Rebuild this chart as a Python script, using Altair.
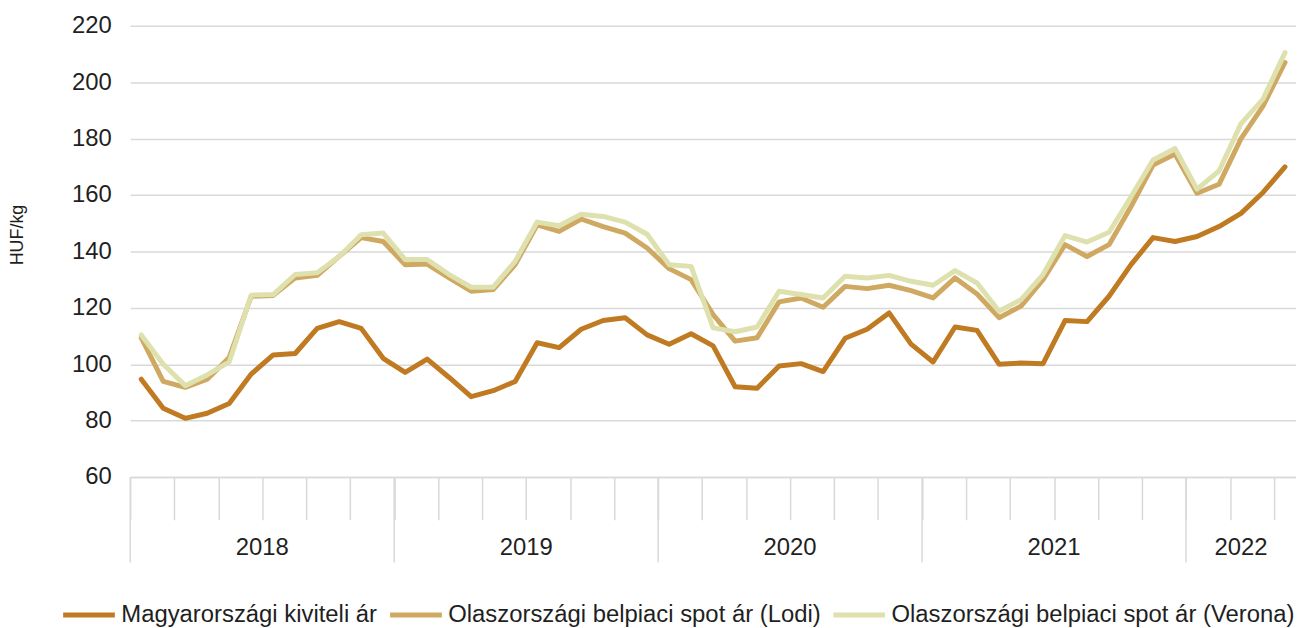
import altair as alt
import pandas as pd

start_year = 2018
series_names = [
    "Magyarországi kiviteli ár",
    "Olaszországi belpiaci spot ár (Lodi)",
    "Olaszországi belpiaci spot ár (Verona)",
]
colors = ["#BF7A22", "#CFA962", "#DEE1AE"]

hu_export = [94.7, 84.4, 80.8, 82.6, 86.1, 96.5, 103.3, 103.8, 112.7, 115.1, 112.7, 102.1,
             97.1, 101.8, 95.3, 88.5, 90.6, 93.9, 107.6, 105.9, 112.4, 115.5, 116.5, 110.4,
             107.1, 110.8, 106.5, 92.0, 91.5, 99.4, 100.2, 97.4, 109.2, 112.4, 118.2, 107.1,
             100.8, 113.2, 112.0, 100.0, 100.4, 100.2, 115.5, 115.1, 124.1, 135.3, 144.9, 143.5,
             145.3, 148.8, 153.5, 160.9, 170.0]
lodi = [109.4, 93.9, 91.8, 94.7, 102.4, 124.1, 124.4, 130.6, 131.5, 138.2, 144.9, 143.5,
        135.3, 135.5, 130.6, 125.9, 126.5, 135.3, 149.4, 147.1, 151.5, 148.8, 146.5, 141.2,
        133.9, 130.0, 117.6, 108.2, 109.4, 122.1, 123.5, 120.2, 127.6, 126.8, 128.0, 126.1,
        123.5, 130.6, 124.9, 116.5, 120.6, 130.0, 142.4, 138.2, 142.4, 155.9, 170.6, 174.5,
        160.6, 163.8, 180.0, 191.5, 207.0]
verona = [110.4, 100.0, 92.4, 96.2, 100.8, 124.5, 124.7, 131.8, 132.4, 138.2, 145.9, 146.5,
          137.1, 137.1, 131.8, 127.3, 127.3, 136.5, 150.4, 149.1, 153.2, 152.4, 150.4, 146.1,
          135.3, 134.7, 112.9, 111.5, 113.2, 125.9, 124.7, 123.5, 131.2, 130.6, 131.5, 129.4,
          128.0, 133.2, 128.8, 118.8, 122.9, 131.8, 145.6, 143.3, 146.8, 159.4, 172.4, 176.5,
          162.1, 168.5, 185.3, 194.0, 210.5]
y_ticks = [60, 80, 100, 120, 140, 160, 180, 200, 220]

n = len(hu_export)
rows = []
for name, vals in zip(series_names, [hu_export, lodi, verona]):
    for i, v in enumerate(vals):
        rows.append({"series": name, "pos": i + 0.5, "value": v})
df = pd.DataFrame(rows)

# year spans
years = []
for i in range(n):
    y = str(start_year + i // 12)
    if not years or years[-1]["year"] != y:
        years.append({"year": y, "start": i, "end": i + 1})
    else:
        years[-1]["end"] = i + 1
ydf = pd.DataFrame(years)
ydf["mid"] = (ydf["start"] + ydf["end"]) / 2

W, H = 1173, 454
FONT = "Liberation Sans"
GRID = "#D9D9D9"
TXT = "#1F1F1F"

xscale = alt.Scale(domain=[0, n], nice=False, zero=False)

lines = alt.Chart(df).mark_line(strokeWidth=5, strokeJoin="round", strokeCap="round").encode(
    x=alt.X("pos:Q", scale=xscale,
            axis=alt.Axis(values=list(range(n)), labels=False, grid=False, title=None,
                          tickSize=43, tickColor=GRID, tickWidth=1.5,
                          domainColor=GRID, domainWidth=1.5)),
    y=alt.Y("value:Q", scale=alt.Scale(domain=[60, 220], nice=False, zero=False),
            axis=alt.Axis(values=y_ticks, title="HUF/kg", grid=True, gridColor=GRID, gridWidth=1.5,
                          domain=False, ticks=False, tickSize=0, labelPadding=19,
                          labelFontSize=24, labelColor=TXT, labelFont=FONT,
                          titleFont=FONT, titleFontSize=18, titleFontWeight="normal",
                          titleColor=TXT, titleAngle=270, titleX=-113, titleY=210,
                          titleAlign="center", titleBaseline="middle")),
    color=alt.Color("series:N", scale=alt.Scale(domain=series_names, range=colors),
                    legend=alt.Legend(orient="none", legendX=-70, legendY=564,
                                      direction="horizontal", title=None,
                                      symbolType="stroke", symbolSize=2704,
                                      symbolStrokeWidth=5, labelFontSize=24,
                                      labelFont=FONT, labelColor=TXT,
                                      labelOffset=4, columnPadding=2,
                                      labelLimit=0)),
)

dividers = alt.Chart(ydf).mark_rule(color=GRID, strokeWidth=1.5).encode(
    x=alt.X("start:Q", scale=xscale),
    y=alt.value(H),
    y2=alt.value(H + 86),
)

year_labels = alt.Chart(ydf).mark_text(font=FONT, fontSize=24, color=TXT, baseline="middle").encode(
    x=alt.X("mid:Q", scale=xscale),
    y=alt.value(H + 71),
    text="year:N",
)

chart = alt.layer(dividers, lines, year_labels).properties(
    width=W, height=H,
    autosize=alt.AutoSizeParams(type="none"),
    padding={"left": 123, "top": 16, "right": 0, "bottom": 150},
).configure_view(stroke=None)

chart.save("out.html", embed_options={"renderer": "svg", "actions": False})
